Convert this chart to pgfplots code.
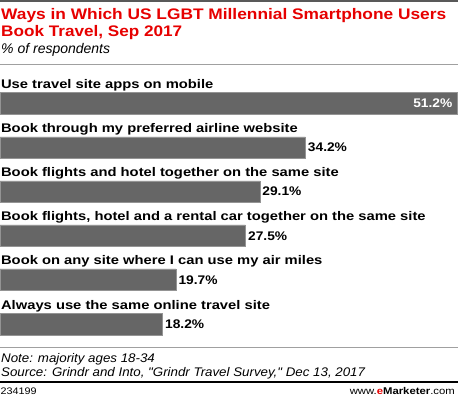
\documentclass[border=0pt]{standalone}
\usepackage{pgfplots}
\pgfplotsset{compat=1.18}
\usepackage{fontspec}
\setmainfont{Liberation Sans}
\newfontfamily\titlef{Liberation Sans}[FakeStretch=1.10]
\newfontfamily\catf{Liberation Sans}[FakeStretch=1.18]
\newfontfamily\valf{Liberation Sans}[FakeStretch=1.10]
\newfontfamily\notef{Liberation Sans}[FakeStretch=1.065]
\definecolor{barcol}{RGB}{102,102,102}
\definecolor{titlered}{RGB}{230,0,0}
\definecolor{linegray}{RGB}{160,160,160}
\tikzset{catlab/.style={anchor=base west, inner sep=0pt, font=\catf\fontsize{12.5}{14}\selectfont\bfseries}}
\begin{document}
\begin{tikzpicture}
\useasboundingbox (0,0) rectangle (458pt,399pt);
\begin{axis}[
  at={(0,0)}, anchor=south west,
  width=458pt, height=399pt, scale only axis,
  xmin=0, xmax=51.31, ymin=0, ymax=399, y dir=reverse,
  hide axis, clip=false,
]
\addplot[xbar, bar width=21.5pt, bar shift=0pt, fill=barcol, draw=barcol!70!white, line width=0.4pt,
  nodes near coords={\pgfmathprintnumber[assume math mode=true,fixed,precision=1,fixed zerofill]{\pgfplotspointmeta}\%},
  point meta=x,
  nodes near coords style={anchor=west, inner sep=2.5pt, font=\valf\fontsize{12.5}{14}\selectfont\bfseries, text=black}]
  coordinates {(34.2,147.5) (29.1,191.5) (27.5,235.7) (19.7,279.7) (18.2,324)};
\addplot[xbar, bar width=21.5pt, bar shift=0pt, fill=barcol, draw=barcol!70!white, line width=0.4pt,
  nodes near coords={\pgfmathprintnumber[assume math mode=true,fixed,precision=1,fixed zerofill]{\pgfplotspointmeta}\%},
  point meta=x,
  nodes near coords style={anchor=east, inner sep=4.5pt, font=\valf\fontsize{12.5}{14}\selectfont\bfseries, text=white}]
  coordinates {(51.2,103.3)};
\node[catlab] at (axis cs:0.1,88) {Use travel site apps on mobile};
\node[catlab] at (axis cs:0.1,132.5) {Book through my preferred airline website};
\node[catlab] at (axis cs:0.1,176.5) {Book flights and hotel together on the same site};
\node[catlab] at (axis cs:0.1,220.7) {Book flights, hotel and a rental car together on the same site};
\node[catlab] at (axis cs:0.1,264.7) {Book on any site where I can use my air miles};
\node[catlab] at (axis cs:0.1,309) {Always use the same online travel site};
\end{axis}
\draw[black!65, line width=1.6pt] (0,399pt-0.8pt) -- (458pt,399pt-0.8pt);
\node[anchor=base west, inner sep=0pt, text=titlered, font=\titlef\fontsize{15.3}{17}\selectfont\bfseries] at (1pt,399pt-19.5pt) {\resizebox{445pt}{\height}{Ways in Which US LGBT Millennial Smartphone Users}};
\node[anchor=base west, inner sep=0pt, text=titlered, font=\titlef\fontsize{15.3}{17}\selectfont\bfseries] at (1pt,399pt-37pt) {\resizebox{181pt}{\height}{Book Travel, Sep 2017}};
\node[anchor=base west, inner sep=0pt, font=\fontsize{14}{16}\selectfont\itshape] at (1pt,399pt-54pt) {\% of respondents};
\draw[linegray, line width=1.3pt] (0,399pt-64.5pt) -- (458pt,399pt-64.5pt);
\draw[linegray, line width=1pt] (0,399pt-348pt) -- (458pt,399pt-348pt);
\node[anchor=base west, inner sep=0pt, font=\notef\fontsize{12.5}{14}\selectfont\itshape] at (1pt,399pt-363pt) {Note: majority ages 18-34};
\node[anchor=base west, inner sep=0pt, font=\notef\fontsize{12.5}{14}\selectfont\itshape] at (1pt,399pt-377pt) {Source: Grindr and Into, "Grindr Travel Survey," Dec 13, 2017};
\draw[black, line width=2.2pt] (0,399pt-382pt) -- (458pt,399pt-382pt);
\node[anchor=base west, inner sep=0pt, font=\fontsize{9.5}{11}\selectfont] at (0.5pt,399pt-395pt) {\resizebox{36pt}{\height}{234199}};
\node[anchor=base east, inner sep=0pt, font=\fontsize{9.8}{12}\selectfont] at (455pt,399pt-395pt) {\resizebox{105pt}{\height}{www.{\bfseries\textcolor{titlered}{e}Marketer}.com}};
\end{tikzpicture}
\end{document}
